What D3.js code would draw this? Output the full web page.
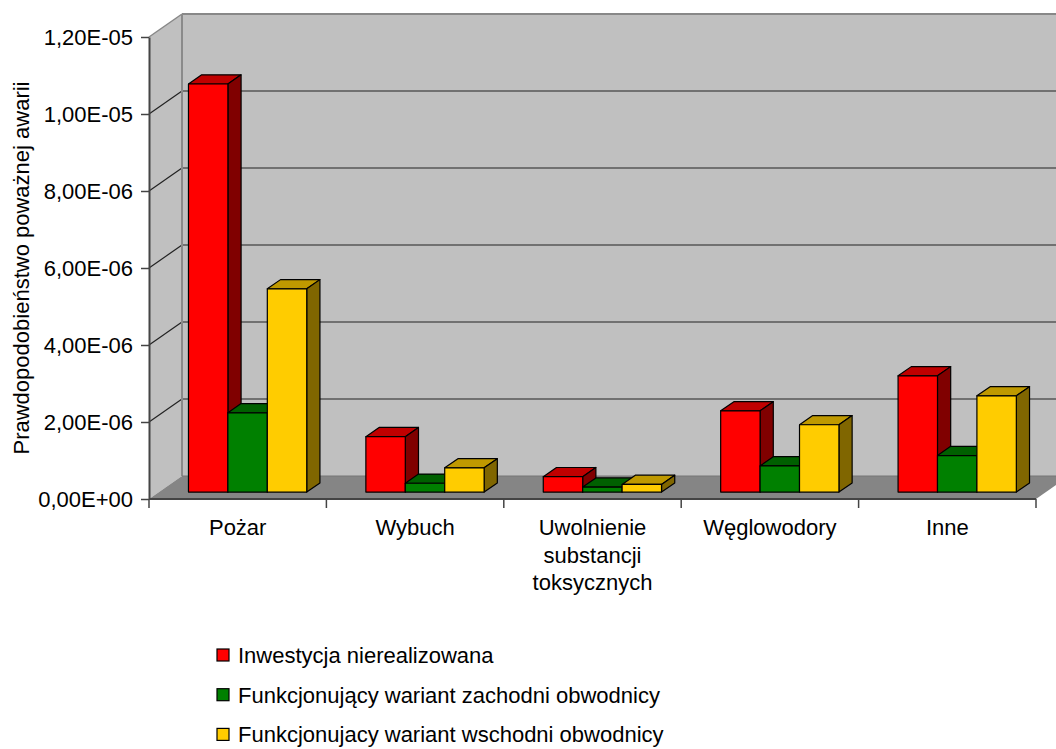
<!DOCTYPE html>
<html>
<head>
<meta charset="utf-8">
<script src="https://cdn.jsdelivr.net/npm/d3@7"></script>
<style>
  body { margin: 0; background: #fff; }
  text { font-family: "Liberation Sans", Arial, sans-serif; fill: #000; }
</style>
</head>
<body>
<svg id="chart" width="1056" height="749"></svg>
<script>
// ---- data ----
const categories = ["Pożar", "Wybuch", "Uwolnienie substancji toksycznych", "Węglowodory", "Inne"];
const seriesNames = [
  "Inwestycja nierealizowana",
  "Funkcjonujący wariant zachodni obwodnicy",
  "Funkcjonujacy wariant wschodni obwodnicy"
];
const inwestycja = [10.6e-6, 1.44e-6, 0.40e-6, 2.11e-6, 3.02e-6];
const wariantZachodni = [2.06e-6, 0.23e-6, 0.13e-6, 0.68e-6, 0.95e-6];
const wariantWschodni = [5.28e-6, 0.63e-6, 0.20e-6, 1.75e-6, 2.50e-6];
const yTicks = [0, 2e-6, 4e-6, 6e-6, 8e-6, 1e-5, 1.2e-5];
const yTitle = "Prawdopodobieństwo poważnej awarii";

// face colours per series: front, top, side
const palette = [
  { front: "#FF0000", top: "#C00000", side: "#800000" },
  { front: "#008000", top: "#006000", side: "#004000" },
  { front: "#FFCC00", top: "#BF9900", side: "#806600" }
];

const seriesValues = [inwestycja, wariantZachodni, wariantWschodni];

const FONT = 22;

// ---- geometry of the 3D box ----
const X0 = 149, X1 = 1036;       // front edge of the floor
const Y0 = 499, YTOP = 37;       // value axis on the front plane
const DX = 33, DY = -23;         // full depth offset of the walls
const BAR_FRONT = 0.3, BAR_BACK = 0.7;

const svg = d3.select("#chart");

const x = d3.scaleBand().domain(categories).range([X0, X1]).padding(0);
const xs = d3.scaleBand().domain(d3.range(seriesNames.length))
  .range([0, x.bandwidth()]).paddingInner(0).paddingOuter(0.75);
const y = d3.scaleLinear().domain([0, 1.2e-5]).range([Y0, YTOP]);

const pt = (px, py, f) => [px + DX * f, py + DY * f];
const poly = pts => pts.map(p => p.join(",")).join(" ");

// ---- walls ----
const walls = svg.append("g");
// back wall
walls.append("polygon")
  .attr("points", poly([pt(X0, YTOP, 1), pt(X1, YTOP, 1), pt(X1, Y0, 1), pt(X0, Y0, 1)]))
  .attr("fill", "#C0C0C0");
// side wall
walls.append("polygon")
  .attr("points", poly([[X0, YTOP], pt(X0, YTOP, 1), pt(X0, Y0, 1), [X0, Y0]]))
  .attr("fill", "#C0C0C0");
// floor
walls.append("polygon")
  .attr("points", poly([[X0, Y0], pt(X0, Y0, 1), pt(X1, Y0, 1), [X1, Y0]]))
  .attr("fill", "#858585");

// gridlines on back wall and side wall
yTicks.forEach((t, i) => {
  if (t === 0) return;
  const top = i === yTicks.length - 1;
  const colour = top ? "#888" : "#222";
  const a = pt(X0, y(t), 1), b = pt(X1, y(t), 1);
  walls.append("line").attr("x1", a[0]).attr("y1", a[1]).attr("x2", b[0]).attr("y2", b[1])
    .attr("stroke", colour).attr("stroke-width", top ? 2 : 1.2);
  walls.append("line").attr("x1", X0).attr("y1", y(t)).attr("x2", a[0]).attr("y2", a[1])
    .attr("stroke", colour).attr("stroke-width", top ? 1.5 : 1.2);
});
// back wall left edge and floor back edge
{
  const a = pt(X0, YTOP, 1), b = pt(X0, Y0, 1);
  walls.append("line").attr("x1", a[0]).attr("y1", a[1]).attr("x2", b[0]).attr("y2", b[1])
    .attr("stroke", "#8a8a8a").attr("stroke-width", 2);
  const c = pt(X1, Y0, 1);
  walls.append("line").attr("x1", b[0]).attr("y1", b[1]).attr("x2", c[0]).attr("y2", c[1])
    .attr("stroke", "#777").attr("stroke-width", 1);
}

// ---- bars ----
const bars = svg.append("g").attr("stroke", "#000").attr("stroke-width", 1.2)
  .attr("stroke-linejoin", "round");
const bw = xs.bandwidth();
categories.forEach((cat, ci) => {
  seriesValues.forEach((vals, si) => {
    const v = vals[ci];
    const c = palette[si];
    const [xl, yt] = pt(x(cat) + xs(si), y(v), BAR_FRONT);
    const [, yb] = pt(0, y(0), BAR_FRONT);
    const xr = xl + bw;
    const ddx = DX * (BAR_BACK - BAR_FRONT), ddy = DY * (BAR_BACK - BAR_FRONT);
    const g = bars.append("g");
    g.append("polygon")
      .attr("points", poly([[xl, yt], [xr, yt], [xr + ddx, yt + ddy], [xl + ddx, yt + ddy]]))
      .attr("fill", c.top);
    g.append("polygon")
      .attr("points", poly([[xr, yt], [xr + ddx, yt + ddy], [xr + ddx, yb + ddy], [xr, yb]]))
      .attr("fill", c.side);
    g.append("rect")
      .attr("x", xl).attr("y", yt).attr("width", bw).attr("height", yb - yt)
      .attr("fill", c.front);
  });
});

// ---- value axis ----
const sciFormat = v => {
  const [m, e] = v.toExponential(2).split("e");
  const sign = e.startsWith("-") ? "-" : "+";
  const digits = e.replace(/[+-]/, "").padStart(2, "0");
  return m.replace(".", ",") + "E" + sign + digits;
};
const yAxis = svg.append("g")
  .attr("transform", `translate(${X0},0)`)
  .call(d3.axisLeft(y).tickValues(yTicks).tickFormat(sciFormat).tickSize(8).tickPadding(8).tickSizeOuter(0));
yAxis.select(".domain").attr("stroke", "#444").attr("stroke-width", 2);
yAxis.selectAll(".tick line").attr("stroke", "#444").attr("stroke-width", 1.5);
yAxis.selectAll(".tick text").attr("font-size", FONT).attr("font-family", "Liberation Sans, Arial, sans-serif");

// ---- category axis ----
const xAxis = svg.append("g");
xAxis.append("line").attr("x1", X0).attr("y1", Y0).attr("x2", X1).attr("y2", Y0)
  .attr("stroke", "#444").attr("stroke-width", 2);
const bounds = categories.map(c => x(c)).concat([x(categories[categories.length - 1]) + x.bandwidth()]);
xAxis.selectAll("line.tk").data(bounds).join("line").attr("class", "tk")
  .attr("x1", d => d).attr("x2", d => d).attr("y1", Y0).attr("y2", Y0 + 9)
  .attr("stroke", "#444").attr("stroke-width", 1.5);

// wrap long category names into lines that fit the band
const measure = svg.append("text").attr("font-size", FONT).attr("visibility", "hidden");
const textWidth = s => { measure.text(s); return measure.node().getComputedTextLength(); };
const wrap = (label, maxW) => {
  const words = label.split(" ");
  const lines = [];
  let cur = "";
  words.forEach(w => {
    const trial = cur ? cur + " " + w : w;
    if (cur && textWidth(trial) > maxW) { lines.push(cur); cur = w; } else cur = trial;
  });
  lines.push(cur);
  return lines;
};
categories.forEach(cat => {
  const cx = x(cat) + x.bandwidth() / 2;
  const t = xAxis.append("text").attr("text-anchor", "middle").attr("font-size", FONT)
    .attr("x", cx).attr("y", 535);
  wrap(cat, x.bandwidth() * 0.85).forEach((line, i) => {
    t.append("tspan").attr("x", cx).attr("dy", i === 0 ? 0 : 27.5).text(line);
  });
});
measure.remove();

// ---- axis title ----
svg.append("text")
  .attr("transform", `translate(29,${(Y0 + YTOP) / 2}) rotate(-90)`)
  .attr("text-anchor", "middle").attr("font-size", FONT)
  .text(yTitle);

// ---- legend ----
const legend = svg.append("g").attr("transform", "translate(217,649)");
seriesNames.forEach((name, i) => {
  const row = legend.append("g").attr("transform", `translate(0,${i * 39.7})`);
  row.append("rect").attr("width", 12).attr("height", 12)
    .attr("fill", palette[i].front).attr("stroke", "#000").attr("stroke-width", 1.2);
  row.append("text").attr("x", 21).attr("y", 14).attr("font-size", FONT).text(name);
});
</script>
</body>
</html>
